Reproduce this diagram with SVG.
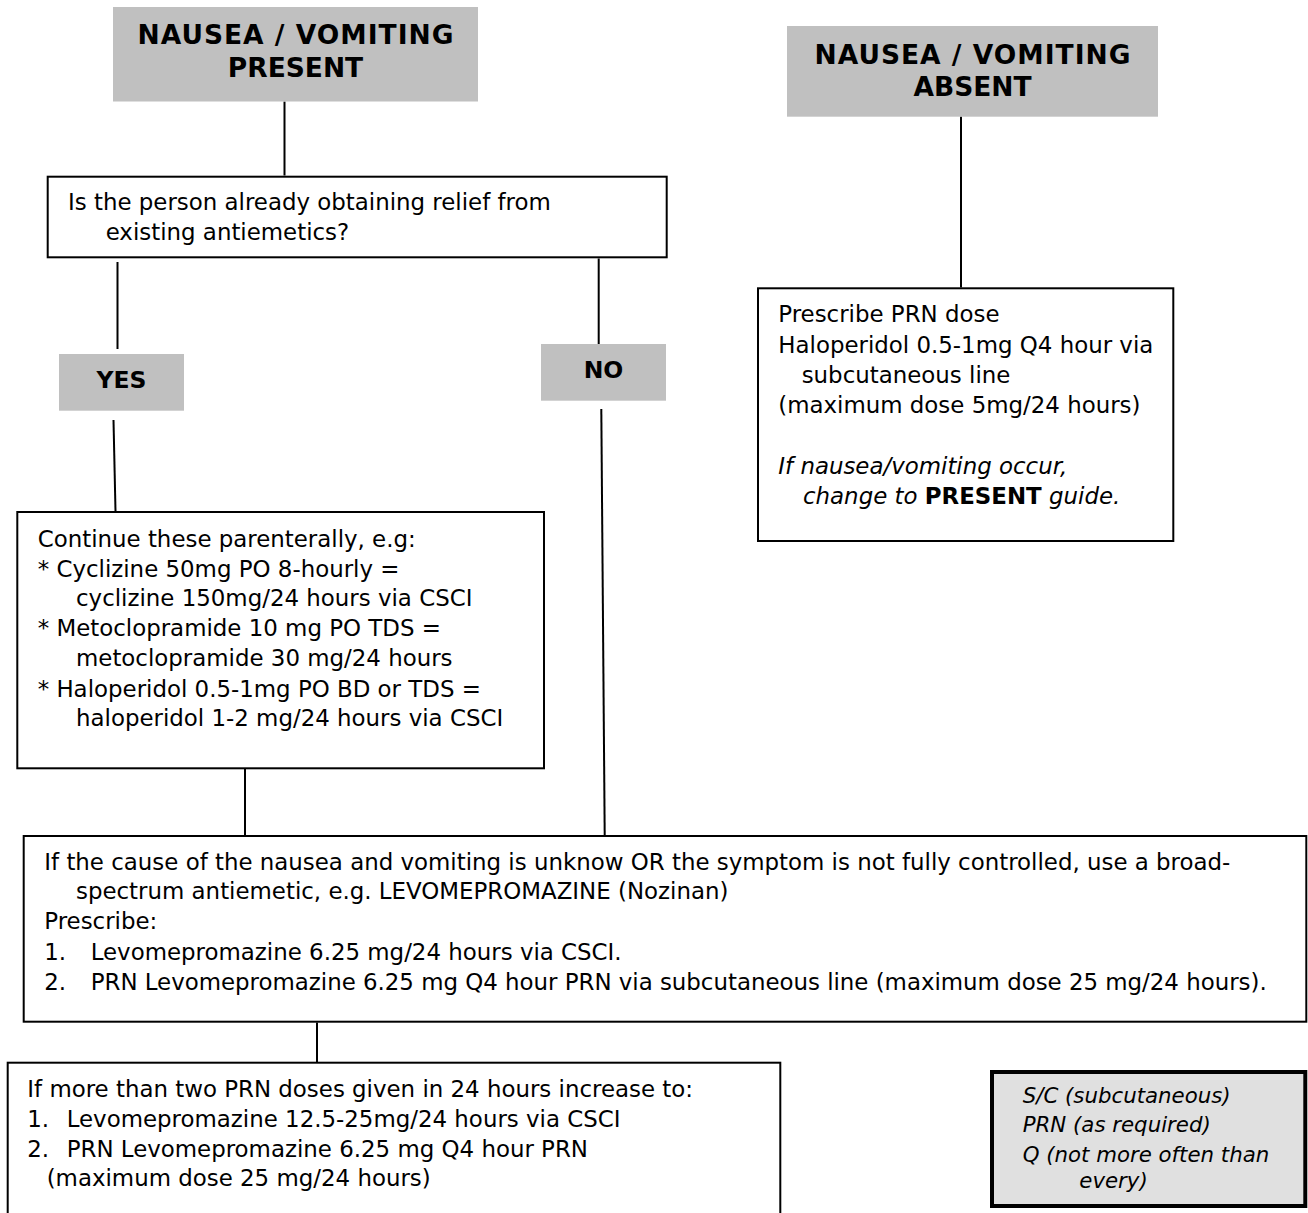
<svg xmlns="http://www.w3.org/2000/svg" width="1308" height="1213" viewBox="0 0 1308 1213">
<style>
.bg{fill:#ffffff}
.title{fill:#c0c0c0;stroke:none}
.box{fill:#ffffff;stroke:#000000;stroke-width:2}
.legend{fill:#e0e0e0;stroke:#000000;stroke-width:4}
.conn line{stroke:#000000;stroke-width:2}
text{font-family:"DejaVu Sans","Liberation Sans",sans-serif;fill:#000000}
.tt{font-size:26.5px;font-weight:bold;text-anchor:middle}
.yn{font-size:23.5px;font-weight:bold;text-anchor:middle}
.b{font-size:22.9px}
.it{font-style:italic}
.lg{font-size:21.3px;font-style:italic}
.bold{font-weight:bold;font-style:normal}
</style>
<rect class="bg" x="0" y="0" width="1308" height="1213"/>
<g id="connectors" class="conn">
<line x1="284.5" y1="101.5" x2="284.5" y2="175.5"/>
<line x1="117.5" y1="262" x2="117.5" y2="349"/>
<line x1="113.5" y1="420" x2="115.5" y2="511"/>
<line x1="598.7" y1="258.5" x2="598.7" y2="345"/>
<line x1="601.3" y1="409" x2="604.7" y2="835"/>
<line x1="961" y1="116.5" x2="961" y2="287.5"/>
<line x1="245" y1="769" x2="245" y2="835"/>
<line x1="317" y1="1022.5" x2="317" y2="1062"/>
</g>
<g id="present">
<rect class="title" x="113" y="7" width="365" height="94.5"/>
<text class="tt" x="295.5" y="44.3" textLength="316" lengthAdjust="spacing">NAUSEA / VOMITING</text>
<text class="tt" x="295.5" y="77.3">PRESENT</text>
</g>
<g id="absent">
<rect class="title" x="787" y="26" width="371" height="90.7"/>
<text class="tt" x="972.5" y="63.5" textLength="316" lengthAdjust="spacing">NAUSEA / VOMITING</text>
<text class="tt" x="972.5" y="95.5">ABSENT</text>
</g>
<g id="question">
<rect class="box" x="47.7" y="176.7" width="619" height="80.6"/>
<text class="b" x="68" y="210">Is the person already obtaining relief from</text>
<text class="b" x="105.7" y="239.5">existing antiemetics?</text>
</g>
<g id="yes">
<rect class="title" x="59" y="354" width="125" height="56.7"/>
<text class="yn" x="121.5" y="388.3">YES</text>
</g>
<g id="no">
<rect class="title" x="541" y="344" width="125" height="56.7"/>
<text class="yn" x="603.5" y="378.3">NO</text>
</g>
<g id="absent-action">
<rect class="box" x="758" y="288.3" width="415.3" height="252.7"/>
<text class="b" x="778.3" y="321.5">Prescribe PRN dose</text>
<text class="b" x="778.3" y="352.5">Haloperidol 0.5-1mg Q4 hour via</text>
<text class="b" x="801.7" y="382.7">subcutaneous line</text>
<text class="b" x="778.3" y="413">(maximum dose 5mg/24 hours)</text>
<text class="b it" x="778.3" y="474">If nausea/vomiting occur,</text>
<text class="b it" x="803" y="503.5">change to <tspan class="bold">PRESENT</tspan> guide.</text>
</g>
<g id="continue">
<rect class="box" x="17.3" y="512" width="526.7" height="256.3"/>
<text class="b" x="37.7" y="546.5">Continue these parenterally, e.g:</text>
<text class="b" x="37.7" y="576.5">* Cyclizine 50mg PO 8-hourly =</text>
<text class="b" x="76" y="606.3">cyclizine 150mg/24 hours via CSCI</text>
<text class="b" x="37.7" y="636.3">* Metoclopramide 10 mg PO TDS =</text>
<text class="b" x="76" y="666.3">metoclopramide 30 mg/24 hours</text>
<text class="b" x="37.7" y="696.5">* Haloperidol 0.5-1mg PO BD or TDS =</text>
<text class="b" x="76" y="726.3">haloperidol 1-2 mg/24 hours via CSCI</text>
</g>
<g id="broad-spectrum">
<rect class="box" x="23.7" y="836" width="1282.6" height="185.7"/>
<text class="b" x="44.3" y="869.5" textLength="1186" lengthAdjust="spacing">If the cause of the nausea and vomiting is unknow OR the symptom is not fully controlled, use a broad-</text>
<text class="b" x="76" y="899">spectrum antiemetic, e.g. LEVOMEPROMAZINE (Nozinan)</text>
<text class="b" x="44.3" y="929">Prescribe:</text>
<text class="b" x="44.3" y="959.7">1.</text>
<text class="b" x="90.7" y="959.7">Levomepromazine 6.25 mg/24 hours via CSCI.</text>
<text class="b" x="44.3" y="990">2.</text>
<text class="b" x="90.7" y="990" textLength="1176" lengthAdjust="spacing">PRN Levomepromazine 6.25 mg Q4 hour PRN via subcutaneous line (maximum dose 25 mg/24 hours).</text>
</g>
<g id="increase">
<rect class="box" x="7.7" y="1062.7" width="772.6" height="200"/>
<text class="b" x="27.3" y="1096.7">If more than two PRN doses given in 24 hours increase to:</text>
<text class="b" x="27.3" y="1126.7">1.</text>
<text class="b" x="66.7" y="1126.7">Levomepromazine 12.5-25mg/24 hours via CSCI</text>
<text class="b" x="27.3" y="1156.7">2.</text>
<text class="b" x="66.7" y="1156.7">PRN Levomepromazine 6.25 mg Q4 hour PRN</text>
<text class="b" x="46.7" y="1186.3">(maximum dose 25 mg/24 hours)</text>
</g>
<g id="legend">
<rect class="legend" x="992" y="1072" width="313.3" height="134"/>
<text class="lg" x="1022.7" y="1103.3">S/C (subcutaneous)</text>
<text class="lg" x="1022.7" y="1132.3">PRN (as required)</text>
<text class="lg" x="1022.7" y="1161.7">Q (not more often than</text>
<text class="lg" x="1079.3" y="1188.3">every)</text>
</g>
</svg>
